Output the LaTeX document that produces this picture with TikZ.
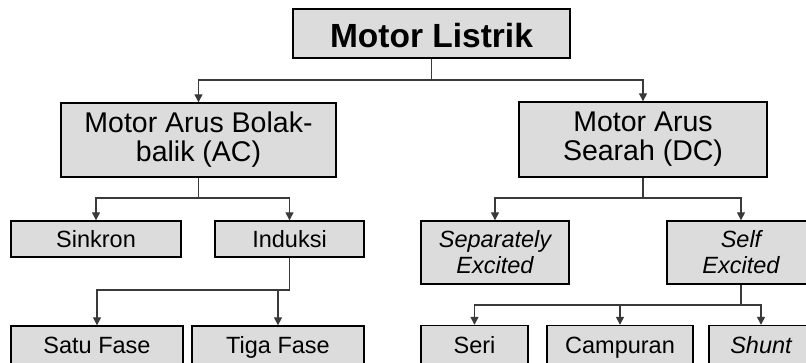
\documentclass[tikz,border=0pt]{standalone}
\usepackage{fontspec}
\setmainfont{Liberation Sans}
\usetikzlibrary{arrows.meta}
\definecolor{boxfill}{HTML}{DCDCDC}
\definecolor{linegray}{HTML}{3A3A3A}
\tikzset{
  box/.style={draw=black, line width=1.4pt, fill=boxfill, inner sep=0pt, align=center, text=black},
  single/.style={text height=16.5pt, text depth=0pt},
  topfont/.style={font=\fontsize{33.5}{36}\bfseries\selectfont},
  midfont/.style={font=\fontsize{28.5}{29}\selectfont},
  lowfont/.style={font=\fontsize{23.5}{26}\selectfont},
  lowit/.style={font=\fontsize{23.5}{26}\itshape\selectfont},
  conn/.style={draw=linegray, line width=1.3pt},
  arr/.style={conn, -{Triangle[length=8pt,width=8pt]}}
}
\begin{document}
\begin{tikzpicture}[x=1pt,y=-1pt]
\useasboundingbox (0,0) rectangle (806,363);
\clip (0,0) rectangle (806,363);
\fill[white] (0,0) rectangle (806,363);
% top
\node[box, topfont, text height=28.5pt, text depth=0pt, minimum width=277pt, minimum height=49pt] (top) at (431.5,33.5) {Motor Listrik};
% level 1
\node[box, midfont, minimum width=275pt, minimum height=74pt] (ac) at (198.5,140) {Motor Arus Bolak-\\balik (AC)};
\node[box, midfont, minimum width=248pt, minimum height=75pt] (dc) at (643,139.5) {Motor Arus\\Searah (DC)};
% level 2
\node[box, lowfont, single, minimum width=170pt, minimum height=36pt] (sink) at (96,239) {Sinkron};
\node[box, lowfont, single, minimum width=149pt, minimum height=36pt] (ind) at (289.5,239) {Induksi};
\node[box, lowit, minimum width=148pt, minimum height=63pt] (sep) at (495,252.5) {Separately\\Excited};
\node[box, lowit, minimum width=148pt, minimum height=63pt] (self) at (741,252.5) {Self\\Excited};
% level 3
\node[box, lowfont, single, minimum width=172pt, minimum height=39pt] (satu) at (97,345.5) {Satu Fase};
\node[box, lowfont, single, minimum width=172pt, minimum height=39pt] (tiga) at (278,345.5) {Tiga Fase};
\node[box, lowfont, single, minimum width=107pt, minimum height=39pt] (seri) at (474.5,345) {Seri};
\node[box, lowfont, single, minimum width=146pt, minimum height=39pt] (camp) at (620,345) {Campuran};
\node[box, lowit, single, minimum width=104pt, minimum height=39pt] (shunt) at (761,345) {Shunt};
% junctions
\coordinate (j1) at (431.5,80);
\coordinate (j2) at (198.5,198);
\coordinate (j3) at (289.5,290);
\coordinate (j4) at (643,198);
\coordinate (j5) at (741,305);
% connectors
\draw[conn] (top.south) -- (j1);
\draw[arr] (j1) -| (ac.north);
\draw[arr] (j1) -| (dc.north);
\draw[conn] (ac.south) -- (j2);
\draw[arr] (j2) -| (sink.north);
\draw[arr] (j2) -| (ind.north);
\draw[conn] (ind.south) -- (j3);
\draw[arr] (j3) -| (satu.north);
\draw[arr] (j3) -| (tiga.north);
\draw[conn] (dc.south) -- (j4);
\draw[arr] (j4) -| (sep.north);
\draw[arr] (j4) -| (self.north);
\draw[conn] (self.south) -- (j5);
\draw[arr] (j5) -| (seri.north);
\draw[arr] (j5) -| (camp.north);
\draw[arr] (j5) -| (shunt.north);
\end{tikzpicture}
\end{document}
